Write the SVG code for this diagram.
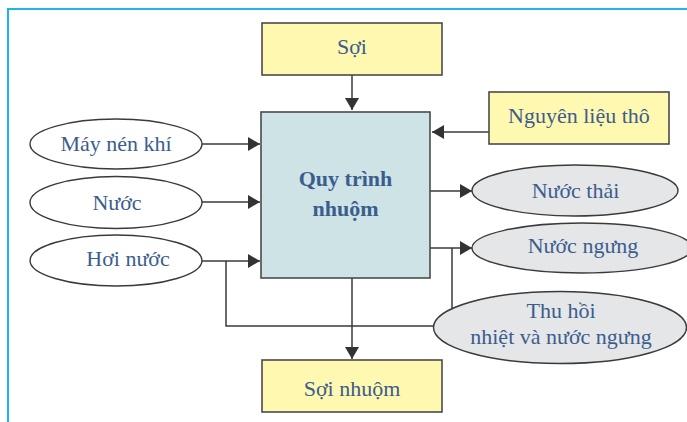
<svg xmlns="http://www.w3.org/2000/svg" width="687" height="422" viewBox="0 0 687 422">
<style>
.frame{fill:none;stroke:#1DB5EA;stroke-width:2}
.box{stroke:#4a4a4a;stroke-width:1.6}
.yel{fill:#FFF8B0}
.proc{fill:#CDE3E6}
.ell{stroke:#3a3a3a;stroke-width:1.4}
.w{fill:#ffffff}
.g{fill:#E5E6E8}
.t{font-family:"Liberation Serif","DejaVu Serif",serif;font-size:22px;fill:#3B5D8E;text-anchor:middle}
.b{font-weight:bold}
.ln{fill:none;stroke:#3a3a3a;stroke-width:1.5}
</style>
<defs>
<marker id="ah" viewBox="0 0 12 14" refX="12" refY="7" markerWidth="12" markerHeight="14" markerUnits="userSpaceOnUse" orient="auto">
<path d="M0,0 L12,7 L0,14 Z" fill="#333333"/>
</marker>
</defs>
<path class="frame" d="M8,422 L8,9 L687,9"/>
<g id="connectors">
<line class="ln" x1="352" y1="75" x2="352" y2="110" marker-end="url(#ah)"/>
<line class="ln" x1="489" y1="132" x2="432" y2="132" marker-end="url(#ah)"/>
<line class="ln" x1="202" y1="144" x2="260" y2="144" marker-end="url(#ah)"/>
<line class="ln" x1="202" y1="202" x2="260" y2="202" marker-end="url(#ah)"/>
<line class="ln" x1="202" y1="261" x2="260" y2="261" marker-end="url(#ah)"/>
<line class="ln" x1="430" y1="191" x2="472" y2="191" marker-end="url(#ah)"/>
<line class="ln" x1="430" y1="248" x2="472" y2="248" marker-end="url(#ah)"/>
<path class="ln" d="M226,261 L226,326 L434,326"/>
<path class="ln" d="M452,248 L452,308"/>
<line class="ln" x1="352" y1="278" x2="352" y2="359" marker-end="url(#ah)"/>
</g>
<g id="soi">
<rect class="box yel" x="262" y="23" width="180" height="52"/>
<text class="t" x="352" y="54">Sợi</text>
</g>
<g id="nguyen-lieu-tho">
<rect class="box yel" x="489" y="92" width="180" height="52"/>
<text class="t" x="579" y="123">Nguyên liệu thô</text>
</g>
<g id="quy-trinh-nhuom">
<rect class="box proc" x="261" y="112" width="169" height="166"/>
<text class="t b" x="345.5" y="186">Quy trình</text>
<text class="t b" x="345.5" y="216">nhuộm</text>
</g>
<g id="may-nen-khi">
<ellipse class="ell w" cx="116" cy="144" rx="86" ry="25"/>
<text class="t" x="116" y="151">Máy nén khí</text>
</g>
<g id="nuoc">
<ellipse class="ell w" cx="116" cy="202.5" rx="86" ry="26"/>
<text class="t" x="117" y="210">Nước</text>
</g>
<g id="hoi-nuoc">
<ellipse class="ell w" cx="116" cy="260.5" rx="86" ry="25.5"/>
<text class="t" x="128" y="266">Hơi nước</text>
</g>
<g id="nuoc-thai">
<ellipse class="ell g" cx="575" cy="190.5" rx="103" ry="25.5"/>
<text class="t" x="575.5" y="198">Nước thải</text>
</g>
<g id="nuoc-ngung">
<ellipse class="ell g" cx="582" cy="248" rx="110" ry="25"/>
<text class="t" x="583" y="253">Nước ngưng</text>
</g>
<g id="thu-hoi">
<ellipse class="ell g" cx="560" cy="327.5" rx="126.5" ry="36"/>
<text class="t" x="561" y="318">Thu hồi</text>
<text class="t" x="561" y="344">nhiệt và nước ngưng</text>
</g>
<g id="soi-nhuom">
<rect class="box yel" x="262" y="360" width="180" height="52"/>
<text class="t" x="352" y="396">Sợi nhuộm</text>
</g>
</svg>
